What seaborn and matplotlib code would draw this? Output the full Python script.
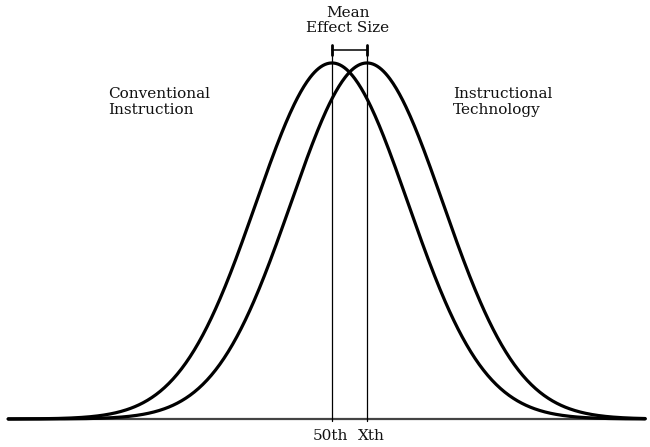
import numpy as np
import pandas as pd
import matplotlib
matplotlib.use("Agg")
import matplotlib.pyplot as plt
import seaborn as sns

# distribution parameters (sd units)
group_names = ["Conventional Instruction", "Instructional Technology"]
group_means = [0.0, 0.46]
group_sd = [1.0, 1.0]
x_range = [-4.26, 4.12]
percentile_labels = ["50th", "Xth"]

sns.set_theme(style="white")
plt.rcParams["font.family"] = ["DejaVu Serif"]

xs = np.linspace(x_range[0], x_range[1], 600)
rows = []
for name, m, s in zip(group_names, group_means, group_sd):
    dens = np.exp(-0.5 * ((xs - m) / s) ** 2) / (s * np.sqrt(2 * np.pi))
    rows.append(pd.DataFrame({"x": xs, "density": dens, "group": name}))
df = pd.concat(rows, ignore_index=True)

fig = plt.figure(figsize=(6.5, 4.47), dpi=100)
ax = fig.add_axes([0, 0, 1, 1])

sns.lineplot(data=df, x="x", y="density", hue="group",
             palette=["black", "black"], linewidth=2.3, legend=False, ax=ax)

# baseline
ax.plot(x_range, [0, 0], color="#444444", linewidth=1.6, zorder=1)

# mean lines and effect-size bracket
top = 0.419
for m in group_means:
    ax.plot([m, m], [-0.002, top], color="black", linewidth=0.9)
    ax.plot([m, m], [0.4075, top], color="black", linewidth=2.0)
ax.plot(group_means, [0.4135, 0.4135], color="black", linewidth=1.1)

fs = 11
ax.text(0.21, 0.463, "Mean\nEffect Size", ha="center", va="top",
        fontsize=fs, linespacing=1.15, color="#111111")
ax.text(-2.95, 0.372, "Conventional\nInstruction", ha="left", va="top",
        fontsize=fs, linespacing=1.15, color="#111111")
ax.text(1.59, 0.372, "Instructional\nTechnology", ha="left", va="top",
        fontsize=fs, linespacing=1.15, color="#111111")
ax.text(-0.02, -0.011, percentile_labels[0], ha="center", va="top",
        fontsize=fs, color="#111111")
ax.text(0.52, -0.011, percentile_labels[1], ha="center", va="top",
        fontsize=fs, color="#111111")

ax.set_xlim(-4.368, 4.184)
ax.set_ylim(-0.0314, 0.4695)
ax.axis("off")

fig.savefig("out.png", dpi=100)
